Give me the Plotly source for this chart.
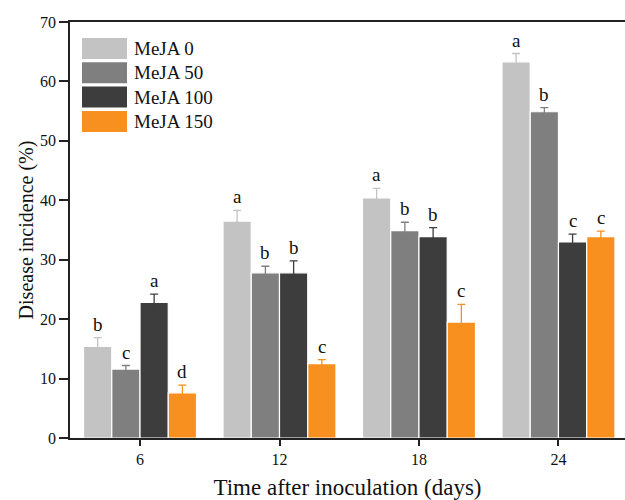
import plotly.graph_objects as go

days = ["6", "12", "18", "24"]
series_names = ["MeJA 0", "MeJA 50", "MeJA 100", "MeJA 150"]
values = [
    [15.4, 36.5, 40.4, 63.3],
    [11.6, 27.8, 34.9, 54.9],
    [22.8, 27.8, 33.9, 33.0],
    [7.6, 12.5, 19.5, 33.9],
]
errors = [
    [1.5, 1.8, 1.6, 1.4],
    [0.6, 1.1, 1.4, 0.7],
    [1.4, 2.0, 1.5, 1.3],
    [1.3, 0.7, 3.0, 0.9],
]
letters = [
    ["b", "a", "a", "a"],
    ["c", "b", "b", "b"],
    ["a", "b", "b", "c"],
    ["d", "c", "c", "c"],
]
colors = ["#c3c3c3", "#7f7f7f", "#3d3d3d", "#f7901f"]

FONT = "Liberation Serif"
W, H = 625, 500
L, T, B, R = 70, 22, 62, 0
pw, ph = W - L - R, H - T - B
bargap = 0.19
nser = len(series_names)
bw = (1 - bargap) / nser

fig = go.Figure()
for i, name in enumerate(series_names):
    fig.add_trace(go.Bar(
        x=days, y=values[i], name=name, showlegend=False,
        marker=dict(color=colors[i], line=dict(color="white", width=1.2)),
        error_y=dict(type="data", array=errors[i], color=colors[i],
                     thickness=1.3, width=4, visible=True),
    ))

annotations = []
for i in range(nser):
    for j in range(len(days)):
        xc = j - (1 - bargap) / 2 + bw * (i + 0.5)
        annotations.append(dict(
            x=xc, y=values[i][j] + errors[i][j], xref="x", yref="y",
            text=letters[i][j], showarrow=False, yanchor="bottom",
            yshift=1, font=dict(family=FONT, size=19, color="#111")))

# manual legend (large swatches)
shapes = []
for i, name in enumerate(series_names):
    top = 38 + 24.3 * i
    bot = top + 21
    shapes.append(dict(type="rect", xref="paper", yref="paper",
                       x0=(82 - L) / pw, x1=(127 - L) / pw,
                       y0=(H - B - bot) / ph, y1=(H - B - top) / ph,
                       fillcolor=colors[i], line=dict(width=0)))
    annotations.append(dict(x=(132 - L) / pw, y=(H - B - (top + bot) / 2) / ph,
                            xref="paper", yref="paper", text=name,
                            showarrow=False, xanchor="left", yanchor="middle",
                            font=dict(family=FONT, size=19, color="#111")))

fig.update_layout(
    width=W, height=H,
    margin=dict(l=L, r=R, t=T, b=B),
    paper_bgcolor="white", plot_bgcolor="white",
    barmode="group", bargap=bargap, bargroupgap=0,
    font=dict(family=FONT, size=16, color="#111"),
    annotations=annotations, shapes=shapes,
    xaxis=dict(type="category", range=[-0.502, 3.477],
               showline=True, linecolor="#222", linewidth=1.5, mirror=True,
               ticks="outside", ticklen=6, tickwidth=1.5, tickcolor="#222",
               tickfont=dict(family=FONT, size=16, color="#111"),
               title=dict(text="Time after inoculation (days)",
                          font=dict(family=FONT, size=23, color="#111"),
                          standoff=13),
               showgrid=False, zeroline=False),
    yaxis=dict(range=[0, 70], dtick=10,
               showline=True, linecolor="#222", linewidth=1.5,
               ticks="outside", ticklen=9, tickwidth=1.5, tickcolor="#222",
               tickfont=dict(family=FONT, size=16, color="#111"),
               title=dict(text="Disease incidence (%)",
                          font=dict(family=FONT, size=20, color="#111"),
                          standoff=1),
               showgrid=False, zeroline=False),
)

fig.write_html("out.html")
